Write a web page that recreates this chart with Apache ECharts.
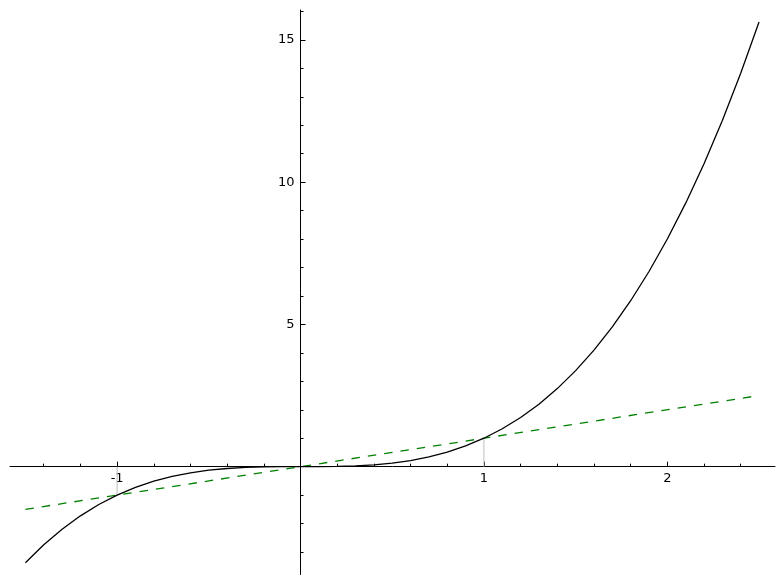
<!DOCTYPE html>
<html>
<head>
<meta charset="utf-8">
<script src="https://cdn.jsdelivr.net/npm/echarts@6/dist/echarts.min.js"></script>
<style>
html,body{margin:0;padding:0;background:#fff;}
#chart{width:784px;height:584px;}
</style>
</head>
<body>
<div id="chart"></div>
<script>
// Cubic curve y = x^3
const curveX = [-1.5,-1.4,-1.3,-1.2,-1.1,-1.0,-0.9,-0.8,-0.7,-0.6,-0.5,-0.4,-0.3,-0.2,-0.1,0,
  0.1,0.2,0.3,0.4,0.5,0.6,0.7,0.8,0.9,1.0,1.1,1.2,1.3,1.4,1.5,1.6,1.7,1.8,1.9,2.0,2.1,2.2,2.3,2.4,2.5];
const curveY = [-3.375,-2.744,-2.197,-1.728,-1.331,-1,-0.729,-0.512,-0.343,-0.216,-0.125,-0.064,-0.027,-0.008,-0.001,0,
  0.001,0.008,0.027,0.064,0.125,0.216,0.343,0.512,0.729,1,1.331,1.728,2.197,2.744,3.375,4.096,4.913,5.832,6.859,8,9.261,10.648,12.167,13.824,15.625];
// Dashed green line y = x
const lineX = [-1.5, 2.5];
const lineY = [-1.5, 2.5];
// Gray vertical markers from the x axis to the intersection points
const markX = [-1, 1];
const markY = [-1, 1];
// Axis ticks
const xMajorTicks = [-1, 1, 2];
const xMinorTicks = [-1.4,-1.2,-0.8,-0.6,-0.4,-0.2,0.2,0.4,0.6,0.8,1.2,1.4,1.6,1.8,2.2,2.4];
const yMajorTicks = [5, 10, 15];
const yMinorTicks = [-3,-2,-1,1,2,3,4,6,7,8,9,11,12,13,14,16];

const X_MIN = -1.584, X_MAX = 2.587, Y_MIN = -3.79, Y_MAX = 16.05;
const FONT = 'DejaVu Sans';
const GRID = { left: 10, right: 9, top: 10, bottom: 9.5 };

function xAxisDef(major) {
  return {
    type: 'value', min: X_MIN, max: X_MAX, position: 'bottom',
    axisLine: { show: major, onZero: true, onZeroAxisIndex: 0, lineStyle: { color: '#000', width: 1 } },
    axisTick: { show: true, inside: true, length: major ? 5 : 3, customValues: major ? xMajorTicks : xMinorTicks,
      lineStyle: { color: '#000', width: 1 } },
    axisLabel: { show: false },
    splitLine: { show: false }
  };
}
function yAxisDef(major) {
  return {
    type: 'value', min: Y_MIN, max: Y_MAX, position: 'left',
    axisLine: { show: major, onZero: true, onZeroAxisIndex: 0, lineStyle: { color: '#000', width: 1 } },
    axisTick: { show: true, inside: true, length: major ? 5 : 3, customValues: major ? yMajorTicks : yMinorTicks,
      lineStyle: { color: '#000', width: 1 } },
    axisLabel: { show: false },
    splitLine: { show: false }
  };
}
function xLabelAxis(offset) {
  return {
    type: 'value', min: X_MIN, max: X_MAX, position: 'bottom', offset: offset,
    axisLine: { show: false, onZero: false }, axisTick: { show: false },
    axisLabel: { show: true, customValues: xMajorTicks, margin: 5, color: '#000', fontSize: 13, fontFamily: FONT,
      formatter: v => String(v) },
    splitLine: { show: false }
  };
}
function yLabelAxis(offset) {
  return {
    type: 'value', min: Y_MIN, max: Y_MAX, position: 'left', offset: offset,
    axisLine: { show: false, onZero: false }, axisTick: { show: false },
    axisLabel: { show: true, customValues: yMajorTicks, margin: 6, color: '#000', fontSize: 13, fontFamily: FONT,
      formatter: v => String(v) },
    splitLine: { show: false }
  };
}

const chart = echarts.init(document.getElementById('chart'), null, { renderer: 'canvas' });
const series = [];
markX.forEach((x, i) => {
  series.push({
    type: 'line', xAxisIndex: 0, yAxisIndex: 0, symbol: 'none', silent: true,
    data: [[x, 0], [x, markY[i]]],
    lineStyle: { color: '#bdbdbd', width: 1 }, z: 1
  });
});
series.push({
  type: 'line', xAxisIndex: 0, yAxisIndex: 0, symbol: 'none', silent: true,
  data: lineX.map((x, i) => [x, lineY[i]]),
  lineStyle: { color: '#008000', width: 1.3, type: [8.5, 8] }, z: 3
});
series.push({
  type: 'line', xAxisIndex: 0, yAxisIndex: 0, symbol: 'none', silent: true,
  data: curveX.map((x, i) => [x, curveY[i]]),
  lineStyle: { color: '#000', width: 1.3 }, z: 4
});

function build(xOff, yOff) {
  return {
    animation: false,
    backgroundColor: '#fff',
    grid: Object.assign({ containLabel: false, outerBoundsMode: 'none' }, GRID),
    xAxis: [xAxisDef(true), xAxisDef(false), xLabelAxis(xOff)],
    yAxis: [yAxisDef(true), yAxisDef(false), yLabelAxis(yOff)],
    series: series
  };
}
chart.setOption(build(0, 0));
// Move the label axes onto the zero lines using the library's own scales
const zeroY = chart.convertToPixel({ yAxisIndex: 0 }, 0);
const zeroX = chart.convertToPixel({ xAxisIndex: 0 }, 0);
const H = chart.getHeight();
const xOff = -((H - GRID.bottom) - zeroY);
const yOff = -(zeroX - GRID.left);
chart.setOption(build(xOff, yOff), true);
</script>
</body>
</html>
